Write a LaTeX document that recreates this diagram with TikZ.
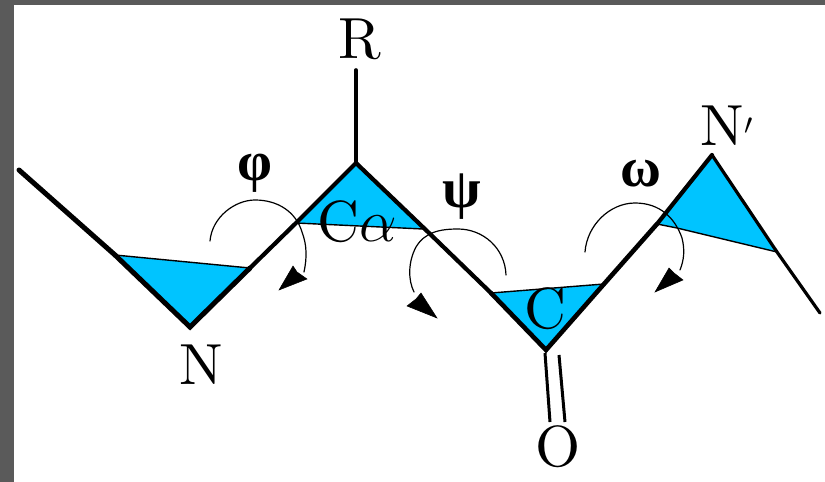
\documentclass[tikz,border=0pt]{standalone}
\usepackage{fontspec}
\setmainfont{lmroman10-regular}[Extension=.otf]
\newfontfamily\greekfont{Liberation Serif}
\definecolor{pane}{HTML}{5A5A5A}
\definecolor{cyanfill}{HTML}{00C4FF}
\tikzset{
  lab/.style={inner sep=0pt,anchor=base,font=\fontsize{58}{58}\selectfont},
  greek/.style={inner sep=0pt,font=\fontsize{56}{56}\greekfont\bfseries},
  bond/.style={line width=4.2pt,line cap=round,line join=miter},
  thinedge/.style={line width=1.4pt},
  rot/.style={line width=1.2pt,line cap=round},
  tri/.style={fill=cyanfill,draw=none},
  head/.style={fill=black,draw=black,line width=.5pt,line join=miter},
}
\begin{document}
\begin{tikzpicture}[x=1pt,y=-1pt]
\useasboundingbox (0,0) rectangle (825,482);
\fill[pane] (0,0) rectangle (825,482);
\fill[white] (14,5) rectangle (825,482);
% backbone points
\coordinate (S) at (19,170);
\coordinate (A) at (115,255);
\coordinate (Nv) at (190,327);
\coordinate (B) at (250,268);
\coordinate (D) at (296,223);
\coordinate (Ca) at (356,163);
\coordinate (E) at (428,232);
\coordinate (E2) at (423,229);
\coordinate (F) at (491,293);
\coordinate (Cv) at (546,350);
\coordinate (G) at (604,284);
\coordinate (H) at (657,224);
\coordinate (H2) at (677,228);
\coordinate (Np) at (712,155);
\coordinate (I) at (777,252);
\coordinate (T) at (820,313);
\coordinate (Rb) at (356,70);
% triangles
\fill[tri] (A)--(Nv)--(B)--cycle;
\fill[tri] (D)--(Ca)--(E)--(E2)--cycle;
\fill[tri] (F)--(Cv)--(G)--cycle;
\fill[tri] (H)--(Np)--(I)--(H2)--cycle;
\draw[thinedge] (A)--(B);
\draw[thinedge] (D)--(E2);
\draw[thinedge] (F)--(G);
\draw[thinedge] (H)--(H2)--(I);
% backbone
\draw[bond,line width=5pt] (S)--(A);
\draw[bond,line width=5pt] (A)--(Nv)--(B);
\draw[bond] (B)--(D)--(Ca)--(E)--(F);
\draw[bond,line width=4.6pt] (F)--(Cv)--(G)--(H);
\draw[bond] (H)--(Np);
\draw[bond,line width=3.2pt] (Np)--(I)--(T);
\draw[bond,line width=3.6pt] (Rb)--(Ca);
% double bond
\coordinate (O1) at (545,353); \coordinate (O2) at (550,422);
\coordinate (O3) at (559,355); \coordinate (O4) at (565,422);
\draw[line width=3pt] (O1)--(O2);
\draw[line width=3pt] (O3)--(O4);
% rotation arrows
\coordinate (ph0) at (210,241); \coordinate (ph1) at (255,200);
\coordinate (ph2) at (304,272);
\draw[rot] (ph0) .. controls (212,217) and (235,200) .. (ph1)
  .. controls (278,200) and (296,212) .. (302,232)
  .. controls (307,245) and (307,258) .. (ph2);
\fill[head] (279,290)--(293,266)--(297,272)--(307,279)--cycle;
\coordinate (ps0) at (506,275); \coordinate (ps1) at (458,229);
\coordinate (ps2) at (414,292);
\draw[rot] (ps0) .. controls (505,248) and (483,229) .. (ps1)
  .. controls (440,229) and (425,232) .. (416,247)
  .. controls (408,262) and (408,280) .. (ps2);
\fill[head] (437,318)--(421,293)--(416,299)--(407,306)--cycle;
\coordinate (om0) at (585,252); \coordinate (om1) at (635,203);
\coordinate (om2) at (680,270);
\draw[rot] (om0) .. controls (587,225) and (610,203) .. (om1)
  .. controls (660,203) and (675,218) .. (682,238)
  .. controls (685,250) and (684,260) .. (om2);
\fill[head] (655,292)--(669,268)--(674,273)--(683,280)--cycle;
% labels
\node[lab] (lR) at (360,58) {R};
\node[lab] (lN) at (201,384) {N};
\node[lab] (lNp) at (727,145) {N\scalebox{1.2}{$'$}};
\node[lab] (lO) at (558,466) {O};
\node[lab] (lCa) at (357,241) {C\scalebox{2.4}{$\alpha$}};
\node[lab] (lC) at (545,328) {C};
\node[greek] (gph) at (255,173) {φ};
\node[greek] (gps) at (462,197) {ψ};
\node[greek] (gom) at (641,174) {ω};
\end{tikzpicture}
\end{document}
